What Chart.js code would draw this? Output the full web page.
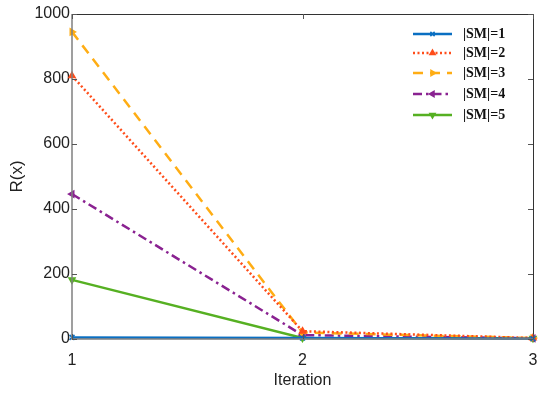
<!DOCTYPE html>
<html>
<head>
<meta charset="utf-8">
<script src="https://cdn.jsdelivr.net/npm/chart.js@4.4.0/dist/chart.umd.min.js"></script>
<style>
  html, body { margin: 0; padding: 0; background: #fff; }
  #wrap { width: 550px; height: 397px; }
</style>
</head>
<body>
<div id="wrap"><canvas id="chart" width="550" height="397"></canvas></div>
<script>
const iterations = [1, 2, 3];
const seriesLabels = ['|SM|=1', '|SM|=2', '|SM|=3', '|SM|=4', '|SM|=5'];
const sm1 = [5, 3, 1];
const sm2 = [810, 24, 3];
const sm3 = [945, 20, 3];
const sm4 = [446, 12, 2];
const sm5 = [182, 3, 2];
const yTicks = [0, 200, 400, 600, 800, 1000];

const styles = [
  { color: '#0a6fc2', dash: [], marker: 'crossRot', rot: 0 },
  { color: '#ff4d1a', dash: [2, 2.5], marker: 'triangle', rot: 0 },
  { color: '#ffad14', dash: [10, 7], marker: 'triangle', rot: 90 },
  { color: '#8a2291', dash: [9, 4, 2.5, 4], marker: 'triangle', rot: -90 },
  { color: '#56b022', dash: [], marker: 'triangle', rot: 180 }
];

const allSeries = [sm1, sm2, sm3, sm4, sm5];

const datasets = allSeries.map((vals, i) => ({
  label: seriesLabels[i],
  data: iterations.map((it, j) => ({ x: it, y: vals[j] })),
  borderColor: styles[i].color,
  backgroundColor: styles[i].color,
  borderWidth: 2.5,
  borderDash: styles[i].dash,
  pointStyle: styles[i].marker,
  rotation: styles[i].rot,
  pointRadius: 3.5,
  pointBorderWidth: 1.5,
  tension: 0,
  clip: false
}));

// box + inward ticks on all four sides
const boxPlugin = {
  id: 'box',
  afterDraw(chart) {
    const { ctx, chartArea: a, scales } = chart;
    ctx.save();
    ctx.lineWidth = 1;
    ctx.strokeStyle = '#333';
    ctx.beginPath();
    ctx.moveTo(a.left, a.top + 0.5);
    ctx.lineTo(a.right + 0.5, a.top + 0.5);
    ctx.lineTo(a.right + 0.5, a.bottom);
    ctx.stroke();
    ctx.strokeStyle = '#808080';
    ctx.lineWidth = 1.5;
    ctx.beginPath();
    ctx.moveTo(a.left, a.top);
    ctx.lineTo(a.left, a.bottom);
    ctx.lineTo(a.right, a.bottom);
    ctx.stroke();
    ctx.lineWidth = 1;
    ctx.strokeStyle = '#555';
    ctx.beginPath();
    yTicks.forEach(v => {
      const y = Math.round(scales.y.getPixelForValue(v)) + 0.5;
      ctx.moveTo(a.left, y); ctx.lineTo(a.left + 5, y);
      ctx.moveTo(a.right, y); ctx.lineTo(a.right - 5, y);
    });
    iterations.forEach(v => {
      const x = Math.round(scales.x.getPixelForValue(v)) + 0.5;
      ctx.moveTo(x, a.bottom); ctx.lineTo(x, a.bottom - 5);
      ctx.moveTo(x, a.top); ctx.lineTo(x, a.top + 5);
    });
    ctx.stroke();
    ctx.restore();
  }
};

// legend with line + marker samples
const legendPlugin = {
  id: 'lineLegend',
  afterDatasetsDraw(chart) {
    const { ctx } = chart;
    const x0 = 413, x1 = 452, tx = 463;
    const rowY = [34, 53, 73, 94, 115];
    ctx.save();
    chart.data.datasets.forEach((ds, i) => {
      const y = rowY[i];
      ctx.strokeStyle = ds.borderColor;
      ctx.lineWidth = 2.5;
      ctx.setLineDash(ds.borderDash);
      ctx.beginPath();
      ctx.moveTo(x0, y);
      ctx.lineTo(x1, y);
      ctx.stroke();
      ctx.setLineDash([]);
      ctx.fillStyle = ds.borderColor;
      ctx.strokeStyle = ds.borderColor;
      ctx.lineWidth = 1.5;
      Chart.helpers.drawPoint(ctx, {
        pointStyle: ds.pointStyle,
        rotation: ds.rotation,
        radius: 3,
        borderWidth: 1.5
      }, (x0 + x1) / 2, y);
      ctx.fillStyle = '#111';
      ctx.font = 'bold 14px "Liberation Serif", "Times New Roman", serif';
      ctx.textBaseline = 'middle';
      ctx.textAlign = 'left';
      ctx.fillText(ds.label, tx, y);
    });
    ctx.restore();
  }
};

new Chart(document.getElementById('chart'), {
  type: 'line',
  data: { datasets },
  options: {
    responsive: false,
    animation: false,
    layout: { padding: { left: 0, right: 17, top: 14, bottom: 0 } },
    plugins: {
      legend: { display: false },
      tooltip: { enabled: false }
    },
    scales: {
      x: {
        type: 'linear',
        min: 1,
        max: 3,
        afterBuildTicks(scale) { scale.ticks = iterations.map(v => ({ value: v })); },
        grid: { display: false, drawTicks: false },
        border: { display: false },
        ticks: {
          padding: 12,
          color: '#222',
          callback: v => String(v),
          font: { family: '"Liberation Sans", Arial, sans-serif', size: 16 }
        },
        title: {
          display: true,
          text: 'Iteration',
          color: '#222',
          padding: { top: 0, bottom: 7 },
          font: { family: '"Liberation Sans", Arial, sans-serif', size: 16 }
        },
        afterFit(scale) { scale.height = 58; }
      },
      y: {
        min: 0,
        max: 1000,
        afterBuildTicks(scale) { scale.ticks = yTicks.map(v => ({ value: v })); },
        grid: { display: false, drawTicks: false },
        border: { display: false },
        ticks: {
          padding: 2,
          color: '#222',
          callback: v => String(v),
          font: { family: '"Liberation Sans", Arial, sans-serif', size: 16 }
        },
        title: {
          display: true,
          text: 'R(x)',
          color: '#222',
          padding: { top: 7, bottom: 0 },
          font: { family: '"Liberation Sans", Arial, sans-serif', size: 17 }
        },
        afterFit(scale) { scale.width = 72; }
      }
    }
  },
  plugins: [boxPlugin, legendPlugin]
});
</script>
</body>
</html>
